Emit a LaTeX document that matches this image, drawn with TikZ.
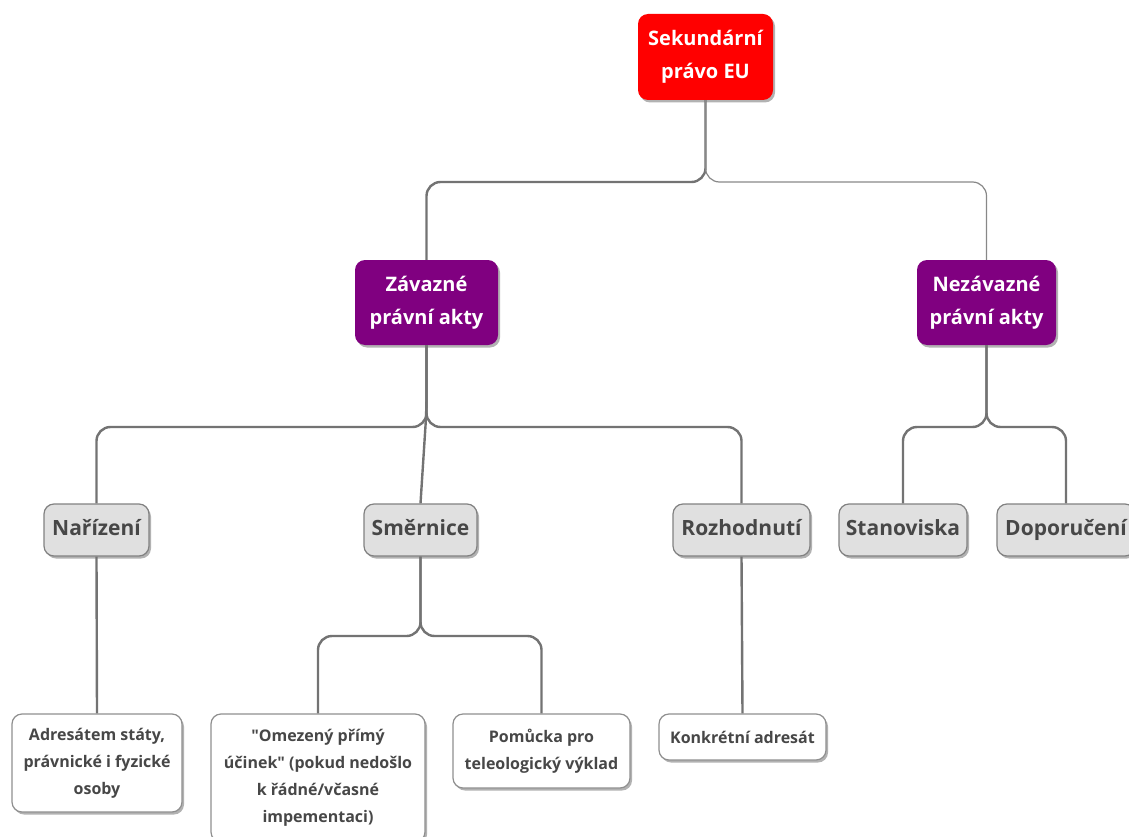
\documentclass[tikz,border=0pt]{standalone}
\usepackage{fontspec}
\setmainfont{Open Sans}[Ligatures=TeXOff]
\usetikzlibrary{shadows}
\definecolor{eured}{HTML}{FF0000}
\definecolor{actpurple}{HTML}{800080}
\definecolor{linegray}{HTML}{737373}
\definecolor{boxgray}{HTML}{E0E0E0}
\definecolor{textgray}{HTML}{474747}
\tikzset{
        x=1pt, y=-1pt,
        softshadow/.style={drop shadow={shadow xshift=2pt, shadow yshift=-2.5pt, opacity=0.3, fill=black}},
        rootbox/.style={rounded corners=10pt, fill=eured, text=white, align=center, softshadow,
          font=\bfseries\fontsize{20}{33}\selectfont, minimum height=86pt},
        actbox/.style={rounded corners=10pt, fill=actpurple, text=white, align=center, softshadow,
          font=\bfseries\fontsize{20}{33}\selectfont, minimum height=85pt},
        kindbox/.style={rounded corners=10pt, fill=boxgray, draw=linegray!90, line width=1.2pt, text=textgray,
          softshadow, font=\bfseries\fontsize{21}{24}\selectfont, text height=15pt, text depth=4pt,
          minimum height=52pt},
        notebox/.style={rounded corners=10pt, fill=white, draw=linegray!80, line width=1.2pt, text=textgray,
          align=center, softshadow, font=\bfseries\fontsize{16}{27}\selectfont},
        branch/.style={draw=linegray, line width=2.4pt, rounded corners=14pt},
        thinbranch/.style={draw=linegray!85, line width=1.2pt, rounded corners=14pt}
          }
\begin{document}
\begin{tikzpicture}
      \useasboundingbox (0,0) rectangle (1129,837);
      % levels
      \node[rootbox, minimum width=135pt] (root) at (705.5,57) {Sekundární\\právo EU};
      \node[actbox, minimum width=143pt] (zav) at (426.5,302.5) {Závazné\\právní akty};
      \node[actbox, minimum width=139pt] (nez) at (986.5,302.5) {Nezávazné\\právní akty};
      \node[kindbox, minimum width=105pt] (nar) at (96.5,530) {Nařízení};
      \node[kindbox, minimum width=113pt] (smer) at (420.5,530) {Směrnice};
      \node[kindbox, minimum width=137pt] (roz) at (741.5,530) {Rozhodnutí};
      \node[kindbox, minimum width=128pt] (stan) at (903,530) {Stanoviska};
      \node[kindbox, minimum width=138pt] (dop) at (1066,530) {Doporučení};
      \node[notebox, minimum width=170pt, minimum height=98pt] (adr) at (97,763)
        {Adresátem státy,\\právnické i fyzické\\osoby};
      \node[notebox, minimum width=214pt, minimum height=128pt] (ome) at (318,778)
        {"Omezený přímý\\účinek" (pokud nedošlo\\k řádné/včasné\\impementaci)};
      \node[notebox, minimum width=177pt, minimum height=74pt] (pom) at (541.5,751)
        {Pomůcka pro\\teleologický výklad};
      \node[notebox, minimum width=167pt, minimum height=46pt] (kon) at (742.5,737) {Konkrétní adresát};
      % connectors
      \draw[branch] (root.south) -- (root.south |- 0,182) -- (zav.north |- 0,182) -- (zav.north);
      \draw[thinbranch] (root.south) -- (root.south |- 0,182) -- (nez.north |- 0,182) -- (nez.north);
      \foreach \p/\c/\j in {zav/nar/427, zav/roz/427, nez/stan/427, nez/dop/427, smer/ome/636, smer/pom/636}
        \draw[branch] (\p.south) -- (\p.south |- 0,\j) -- (\c.north |- 0,\j) -- (\c.north);
      \draw[branch] (zav.south) -- ++(0,65) -- (smer.north);
      \draw[branch] (nar.south) -- (adr.north);
      \draw[branch] (roz.south) -- (kon.north);
    \end{tikzpicture}
\end{document}
